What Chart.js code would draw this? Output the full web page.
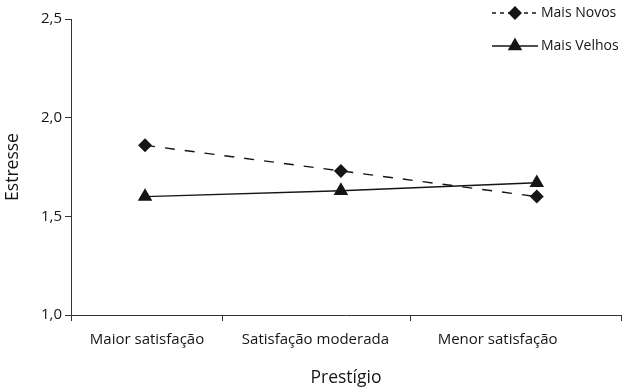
<!DOCTYPE html>
<html>
<head>
<meta charset="utf-8">
<script src="https://cdn.jsdelivr.net/npm/chart.js@4"></script>
<style>
    html, body { margin: 0; padding: 0; background: #fff; }
</style>
</head>
<body>
<canvas id="chart" width="622" height="390"></canvas>
<script>
const categories = ['Maior satisfação', 'Satisfação moderada', 'Menor satisfação'];
const seriesNames = ['Mais Novos', 'Mais Velhos'];
const maisNovos = [1.86, 1.73, 1.60];
const maisVelhos = [1.60, 1.63, 1.67];
const yTicks = [1.0, 1.5, 2.0, 2.5];

// x runs on the category index; the original puts labels between its tick marks
const X_MIN = -0.378;
const X_MAX = 2.43;
const xBoundaries = [X_MIN, 0.393, 1.357, X_MAX];
const xLabelPos = [0.01, 0.87, 1.80];

const FONT = '"Open Sans", "DejaVu Sans", sans-serif';
const INK = '#151515';

const toPoints = values => values.map((v, i) => ({ x: i, y: v }));

const legendPlugin = {
    id: 'lineLegend',
    afterDraw(chart) {
        const ctx = chart.ctx;
        const rows = [13, 46];
        chart.data.datasets.forEach((ds, i) => {
            const y = rows[i];
            ctx.save();
            ctx.strokeStyle = ds.borderColor;
            ctx.lineWidth = ds.borderWidth;
            ctx.setLineDash(i === 0 ? [4, 4] : []);
            ctx.beginPath();
            ctx.moveTo(492, y);
            ctx.lineTo(538, y);
            ctx.stroke();
            ctx.setLineDash([]);
            ctx.fillStyle = ds.pointBackgroundColor;
            Chart.helpers.drawPoint(ctx, {
                pointStyle: ds.pointStyle,
                radius: ds.pointRadius,
                rotation: 0,
                borderWidth: 1
            }, 515, y);
            ctx.fillStyle = INK;
            ctx.font = '14px ' + FONT;
            ctx.textBaseline = 'middle';
            ctx.textAlign = 'left';
            ctx.fillText(ds.label, 541, y);
            ctx.restore();
        });
    }
};

new Chart(document.getElementById('chart'), {
    type: 'line',
    data: {
        datasets: [
            {
                label: seriesNames[0],
                data: toPoints(maisNovos),
                borderColor: INK,
                borderWidth: 1.4,
                borderDash: [10, 10],
                pointStyle: 'rectRot',
                pointRadius: 6,
                pointBackgroundColor: INK,
                pointBorderColor: INK
            },
            {
                label: seriesNames[1],
                data: toPoints(maisVelhos),
                borderColor: INK,
                borderWidth: 1.4,
                pointStyle: 'triangle',
                pointRadius: 7,
                pointBackgroundColor: INK,
                pointBorderColor: INK
            }
        ]
    },
    options: {
        responsive: false,
        animation: false,
        layout: { autoPadding: false, padding: { top: 19, right: 1, left: 0, bottom: 0 } },
        plugins: {
            legend: { display: false },
            tooltip: { enabled: false }
        },
        scales: {
            x: {
                type: 'linear',
                min: X_MIN,
                max: X_MAX,
                weight: 0,
                afterBuildTicks: axis => { axis.ticks = xBoundaries.map(v => ({ value: v })); },
                afterFit: s => { s.height = 8; },
                ticks: { display: false },
                grid: { drawOnChartArea: false, tickLength: 6, color: '#333' },
                border: { color: '#333', width: 1 }
            },
            x2: {
                type: 'linear',
                position: 'bottom',
                min: X_MIN,
                max: X_MAX,
                weight: 1,
                afterBuildTicks: axis => { axis.ticks = xLabelPos.map(v => ({ value: v })); },
                afterFit: s => { s.height = 67; },
                ticks: {
                    autoSkip: false,
                    maxRotation: 0,
                    padding: 0,
                    color: INK,
                    font: { family: FONT, size: 15 },
                    callback: (v, i) => categories[i]
                },
                grid: { display: false },
                border: { display: false },
                title: {
                    display: true,
                    text: 'Prestígio',
                    color: INK,
                    font: { family: FONT, size: 17.5 },
                    padding: { top: 4, bottom: 1 }
                }
            },
            y: {
                min: 1,
                max: 2.5,
                afterBuildTicks: axis => { axis.ticks = yTicks.map(v => ({ value: v })); },
                afterFit: s => { s.width = 71; },
                ticks: {
                    padding: 3,
                    color: INK,
                    font: { family: FONT, size: 15 },
                    callback: v => v.toFixed(1).replace('.', ',')
                },
                grid: { drawOnChartArea: false, tickLength: 6, color: '#333' },
                border: { color: '#333', width: 1 },
                title: {
                    display: true,
                    text: 'Estresse',
                    color: INK,
                    font: { family: FONT, size: 17.5 },
                    padding: { top: 3, bottom: 4 }
                }
            }
        }
    },
    plugins: [legendPlugin]
});
</script>
</body>
</html>
